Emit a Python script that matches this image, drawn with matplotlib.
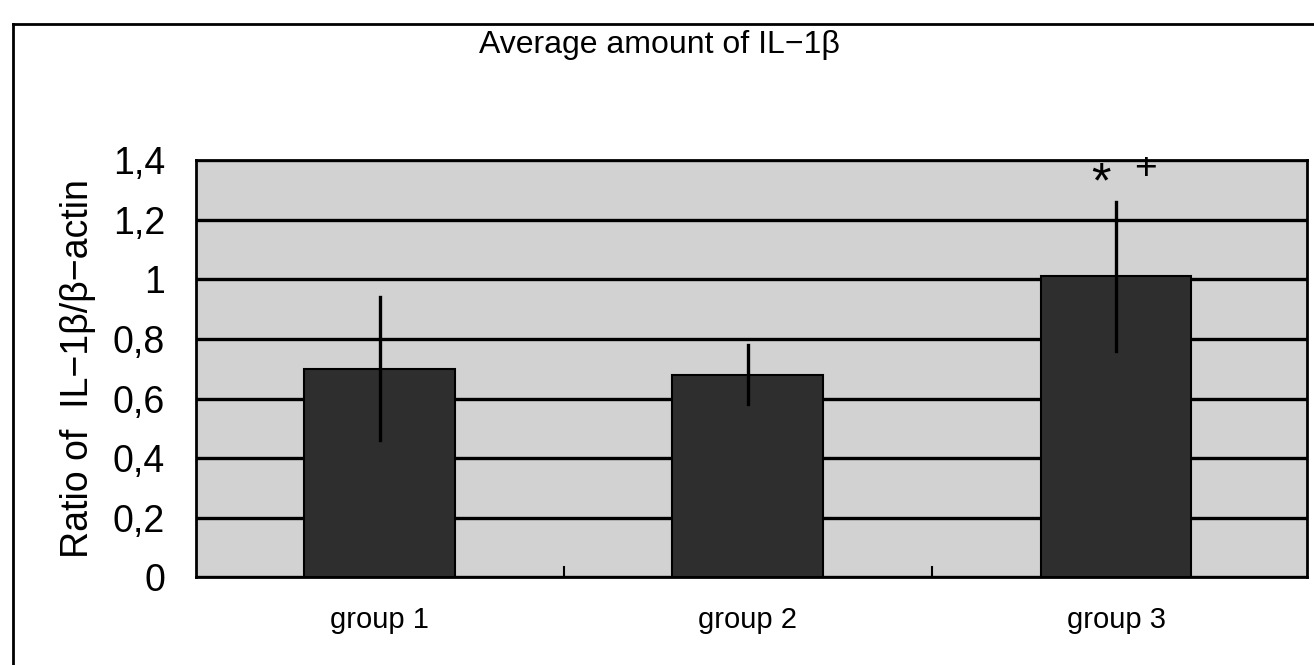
import matplotlib
matplotlib.use("Agg")
import matplotlib.pyplot as plt
from matplotlib.lines import Line2D

groups = ["group 1", "group 2", "group 3"]
means = [0.70, 0.68, 1.01]
errors = [0.24, 0.10, 0.25]
yticks = [0, 0.2, 0.4, 0.6, 0.8, 1.0, 1.2, 1.4]
ytick_labels = ["0", "0,2", "0,4", "0,6", "0,8", "1", "1,2", "1,4"]
marks = ["*", "+"]
mark_x = [1.96, 2.08]
mark_y = [1.32, 1.37]
mark_size = [36, 28]

plt.rcParams['font.family'] = ['Liberation Sans', 'DejaVu Sans']

fig = plt.figure(figsize=(13.14, 6.65), dpi=100)
ax = fig.add_axes([0.149, 0.132, 0.846, 0.627])
ax.set_facecolor('#d2d2d2')

x = list(range(len(groups)))
ax.bar(x, means, width=0.41, color='#2e2e2e', edgecolor='black', linewidth=1.5, zorder=3)
for xi, m, e in zip(x, means, errors):
    ax.plot([xi, xi], [m - e, m + e], color='black', lw=2.4, zorder=4)

for t, xx, yy, fs in zip(marks, mark_x, mark_y, mark_size):
    ax.text(xx, yy, t, ha='center', va='center', fontsize=fs, zorder=5)

ax.set_xlim(-0.5, 2.52)
ax.set_ylim(0, 1.4)
ax.set_yticks(yticks)
ax.set_yticklabels(ytick_labels, fontsize=27)
ax.tick_params(axis='y', length=0, pad=22)
ax.set_xticks(x)
ax.set_xticklabels(groups, fontsize=21)
ax.tick_params(axis='x', length=0, pad=21)
ax.set_xticks([0.5, 1.5], minor=True)
ax.tick_params(axis='x', which='minor', direction='in', length=8, width=1.5)
ax.grid(axis='y', color='black', lw=2.4, zorder=2)
ax.set_axisbelow(True)
for s in ax.spines.values():
    s.set_linewidth(2)

ax.set_ylabel("Ratio of  IL\u22121\u03b2/\u03b2\u2212actin", fontsize=27, labelpad=12)
fig.text(0.502, 0.932, "Average amount of IL\u22121\u03b2", ha='center', va='center', fontsize=23)

# outer frame (left and top edges)
fig.add_artist(Line2D([0.0099, 0.0099], [0.0, 0.964], color='black', lw=2))
fig.add_artist(Line2D([0.0099, 1.0], [0.964, 0.964], color='black', lw=2))

fig.savefig("out.png", dpi=100)
